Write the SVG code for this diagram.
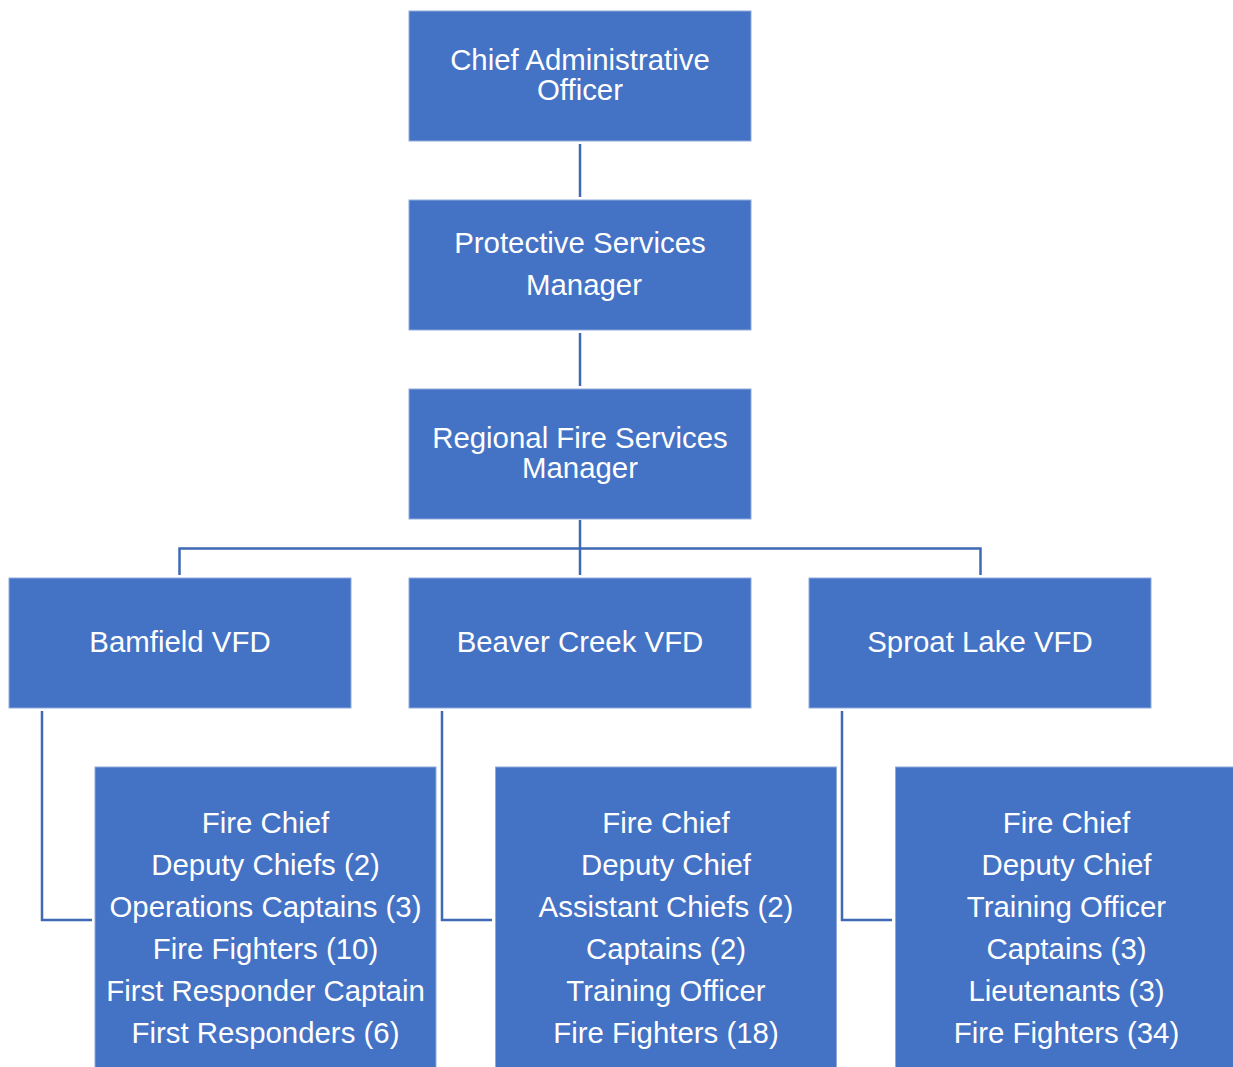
<svg xmlns="http://www.w3.org/2000/svg" width="1233" height="1067" viewBox="0 0 1233 1067">
<style>
.box{fill:#4472C4;stroke:#8FAADC;stroke-width:1}
.t{font-family:"Liberation Sans",Arial,sans-serif;font-size:29.4px;fill:#FFFFFF;text-anchor:middle}
.c{fill:none;stroke:#3F68B5;stroke-width:2.5}
</style>
<rect width="1233" height="1067" fill="#FFFFFF"/>
<g id="connectors">
<path class="c" d="M580,144V197"/>
<path class="c" d="M580,333V386"/>
<path class="c" d="M580,520V575"/>
<path class="c" d="M179.5,575V548.5H980.5V575"/>
<path class="c" d="M42,711V920H92"/>
<path class="c" d="M442,711V920H492"/>
<path class="c" d="M842,711V920H892"/>
</g>
<g id="cao">
<rect class="box" x="409" y="11" width="342" height="130"/>
<text class="t" x="580" y="70">Chief Administrative</text>
<text class="t" x="580" y="100">Officer</text>
</g>
<g id="psm">
<rect class="box" x="409" y="200" width="342" height="130"/>
<text class="t" x="580" y="253">Protective Services</text>
<text class="t" x="584" y="295">Manager</text>
</g>
<g id="rfsm">
<rect class="box" x="409" y="389" width="342" height="130"/>
<text class="t" x="580" y="448">Regional Fire Services</text>
<text class="t" x="580" y="478">Manager</text>
</g>
<g id="bamfield">
<rect class="box" x="9" y="578" width="342" height="130"/>
<text class="t" x="180" y="652">Bamfield VFD</text>
</g>
<g id="beaver">
<rect class="box" x="409" y="578" width="342" height="130"/>
<text class="t" x="580" y="652">Beaver Creek VFD</text>
</g>
<g id="sproat">
<rect class="box" x="809" y="578" width="342" height="130"/>
<text class="t" x="980" y="652">Sproat Lake VFD</text>
</g>
<g id="bamfield-staff">
<rect class="box" x="95" y="767" width="341" height="310"/>
<text class="t" x="265.5" y="833">Fire Chief</text>
<text class="t" x="265.5" y="875">Deputy Chiefs (2)</text>
<text class="t" x="265.5" y="917">Operations Captains (3)</text>
<text class="t" x="265.5" y="959">Fire Fighters (10)</text>
<text class="t" x="265.5" y="1001">First Responder Captain</text>
<text class="t" x="265.5" y="1043">First Responders (6)</text>
</g>
<g id="beaver-staff">
<rect class="box" x="495.5" y="767" width="341" height="310"/>
<text class="t" x="666" y="833">Fire Chief</text>
<text class="t" x="666" y="875">Deputy Chief</text>
<text class="t" x="666" y="917">Assistant Chiefs (2)</text>
<text class="t" x="666" y="959">Captains (2)</text>
<text class="t" x="666" y="1001">Training Officer</text>
<text class="t" x="666" y="1043">Fire Fighters (18)</text>
</g>
<g id="sproat-staff">
<rect class="box" x="895.5" y="767" width="342" height="310"/>
<text class="t" x="1066.5" y="833">Fire Chief</text>
<text class="t" x="1066.5" y="875">Deputy Chief</text>
<text class="t" x="1066.5" y="917">Training Officer</text>
<text class="t" x="1066.5" y="959">Captains (3)</text>
<text class="t" x="1066.5" y="1001">Lieutenants (3)</text>
<text class="t" x="1066.5" y="1043">Fire Fighters (34)</text>
</g>
</svg>
